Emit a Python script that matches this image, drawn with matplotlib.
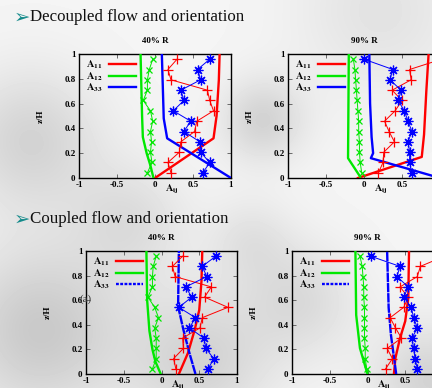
import numpy as np
import matplotlib
matplotlib.use("Agg")
import matplotlib.pyplot as plt
from matplotlib.lines import Line2D

plt.rcParams['font.family'] = ['Liberation Serif', 'DejaVu Sans']
plt.rcParams['mathtext.fontset'] = 'stix'

# ---------------- data ----------------
z_pts = [0.042, 0.125, 0.208, 0.292, 0.375, 0.458, 0.542, 0.625, 0.708, 0.792, 0.875, 0.958]

# Decoupled, 40% R
tl_a11_line_x = [0.0, 0.77, 0.81, 0.84, 0.85]
tl_a11_line_z = [0.0, 0.32, 0.50, 0.79, 1.0]
tl_a12_line_x = [-0.02, -0.06, -0.11, -0.16, -0.17, -0.18, -0.19]
tl_a12_line_z = [0.0, 0.1, 0.2, 0.33, 0.5, 0.75, 1.0]
tl_a33_line_x = [1.0, 0.16, 0.115, 0.09]
tl_a33_line_z = [0.0, 0.32, 0.48, 1.0]
tl_a11_pts = [0.21, 0.17, 0.32, 0.34, 0.52, 0.55, 0.77, 0.72, 0.69, 0.21, 0.17, 0.29]
tl_a12_pts = [-0.10, -0.04, -0.06, -0.045, -0.06, -0.03, -0.06, -0.155, -0.10, -0.10, -0.075, -0.03]
tl_a33_pts = [0.63, 0.72, 0.60, 0.59, 0.38, 0.47, 0.24, 0.38, 0.34, 0.60, 0.56, 0.72]

# Decoupled, 90% R
tr_a11_line_x = [-0.08, 0.76, 0.79, 0.82, 0.85]
tr_a11_line_z = [0.0, 0.17, 0.35, 0.70, 1.0]
tr_a12_line_x = [-0.05, -0.21, -0.20]
tr_a12_line_z = [0.01, 0.16, 1.0]
tr_a33_line_x = [0.07, 0.08, 0.10, 0.12, 0.09, 1.0]
tr_a33_line_z = [1.0, 0.6, 0.33, 0.2, 0.16, 0.0]
tr_a11_pts = [0.19, 0.25, 0.26, 0.40, 0.33, 0.27, 0.41, 0.50, 0.37, 0.62, 0.60, 1.02]
tr_a12_pts = [-0.03, -0.05, -0.06, -0.06, -0.07, -0.07, -0.08, -0.09, -0.10, -0.11, -0.12, -0.14]
tr_a33_pts = [0.63, 0.60, 0.60, 0.58, 0.63, 0.58, 0.53, 0.45, 0.49, 0.34, 0.38, 0.0]

# Coupled, 40% R
bl_a11_line_x = [0.23, 0.35, 0.44, 0.50, 0.53, 0.54]
bl_a11_line_z = [0.0, 0.17, 0.36, 0.52, 0.76, 1.0]
bl_a12_line_x = [-0.01, -0.08, -0.12, -0.16, -0.19, -0.20]
bl_a12_line_z = [0.0, 0.1, 0.2, 0.35, 0.6, 1.0]
bl_a33_line_x = [0.45, 0.37, 0.29, 0.22, 0.23]
bl_a33_line_z = [0.0, 0.17, 0.36, 0.55, 1.0]
bl_a11_pts = [0.19, 0.16, 0.29, 0.28, 0.51, 0.54, 0.88, 0.57, 0.66, 0.18, 0.145, 0.28]
bl_a12_pts = [-0.12, -0.07, -0.07, -0.07, -0.09, -0.04, -0.09, -0.18, -0.12, -0.12, -0.11, -0.07]
bl_a33_pts = [0.62, 0.69, 0.59, 0.56, 0.37, 0.45, 0.23, 0.40, 0.32, 0.60, 0.54, 0.72]

# Coupled, 90% R
br_a11_line_x = [0.35, 0.37, 0.43, 0.50, 0.54, 0.55]
br_a11_line_z = [0.0, 0.13, 0.29, 0.43, 0.62, 1.0]
br_a12_line_x = [0.0, -0.10, -0.15, -0.16]
br_a12_line_z = [0.0, 0.21, 0.48, 1.0]
br_a33_line_x = [0.38, 0.31, 0.28, 0.26]
br_a33_line_z = [0.0, 0.32, 0.54, 1.0]
br_a11_pts = [0.24, 0.33, 0.26, 0.45, 0.37, 0.30, 0.48, 0.54, 0.43, 0.66, 0.70, 1.02]
br_a12_pts = [-0.01, -0.03, -0.03, -0.04, -0.04, -0.04, -0.04, -0.05, -0.05, -0.06, -0.07, -0.10]
br_a33_pts = [0.66, 0.63, 0.61, 0.59, 0.66, 0.61, 0.58, 0.48, 0.54, 0.39, 0.43, 0.04]

titles = ["40% R", "90% R", "40% R", "90% R"]
xticks = [-1, -0.5, 0, 0.5, 1]
xticklabels = ["-1", "-0.5", "0", "0.5", "1"]
yticks = [0, 0.2, 0.4, 0.6, 0.8, 1]
yticklabels = ["0", "0.2", "0.4", "0.6", "0.8", "1"]
legend_labels = [r"$\mathbf{A_{11}}$", r"$\mathbf{A_{12}}$", r"$\mathbf{A_{33}}$"]

RED, GREEN, BLUE = "#ff0000", "#00e800", "#0000ff"

W, H = 432, 388
fig = plt.figure(figsize=(W / 100, H / 100), dpi=100)

# ---------------- slide background ----------------
bg = fig.add_axes([0, 0, 1, 1], zorder=-10)
yy, xx = np.mgrid[0:H, 0:W]
field = np.full((H, W), 0.96)
blobs = [(30, 140, 50, 0.13), (262, 120, 30, 0.13), (40, 330, 60, 0.17),
         (200, 360, 50, 0.13), (300, 300, 40, 0.10), (380, 10, 60, 0.07),
         (130, 220, 40, 0.09), (430, 380, 40, 0.13), (250, 240, 30, 0.07)]
for cx, cy, s, d in blobs:
    field -= d * np.exp(-((xx - cx) ** 2 + (yy - cy) ** 2) / (2 * s * s))
bg.imshow(field, cmap="gray", vmin=0, vmax=1, extent=[0, W, H, 0], aspect="auto",
          interpolation="bilinear")
bg.set_xlim(0, W)
bg.set_ylim(H, 0)
bg.axis("off")

# ---------------- headers ----------------
for ytxt, txt in [(17, "Decoupled flow and orientation"), (219, "Coupled flow and orientation")]:
    fig.text(14 / W, 1 - ytxt / H, "\u27a2", family="DejaVu Sans", fontsize=14,
             color="#138a8a", va="center", ha="left")
    fig.text(30 / W, 1 - ytxt / H, txt, fontsize=12.2, color="#111111",
             va="center", ha="left")

# ---------------- axes ----------------
positions = [
    (79, 54, 152, 124),
    (288, 54, 152, 124),
    (86, 251, 151, 123),
    (292, 251, 151, 123),
]
panels = [
    (tl_a11_line_x, tl_a11_line_z, tl_a12_line_x, tl_a12_line_z, tl_a33_line_x, tl_a33_line_z,
     tl_a11_pts, tl_a12_pts, tl_a33_pts),
    (tr_a11_line_x, tr_a11_line_z, tr_a12_line_x, tr_a12_line_z, tr_a33_line_x, tr_a33_line_z,
     tr_a11_pts, tr_a12_pts, tr_a33_pts),
    (bl_a11_line_x, bl_a11_line_z, bl_a12_line_x, bl_a12_line_z, bl_a33_line_x, bl_a33_line_z,
     bl_a11_pts, bl_a12_pts, bl_a33_pts),
    (br_a11_line_x, br_a11_line_z, br_a12_line_x, br_a12_line_z, br_a33_line_x, br_a33_line_z,
     br_a11_pts, br_a12_pts, br_a33_pts),
]

tick_font = dict(family="Liberation Serif", weight="bold", size=6.5)
asterisk = (8, 2, 0)

for i, ((px, py, pw, ph), data, title) in enumerate(zip(positions, panels, titles)):
    ax = fig.add_axes([px / W, 1 - (py + ph) / H, pw / W, ph / H])
    ax.set_facecolor("none")
    (l11x, l11z, l12x, l12z, l33x, l33z, p11, p12, p33) = data
    dashed = i >= 2
    ax.plot(l11x, l11z, color=RED, lw=1.7, zorder=3)
    ax.plot(l12x, l12z, color=GREEN, lw=1.7, zorder=3)
    ln33, = ax.plot(l33x, l33z, color=BLUE, lw=1.7, zorder=3)
    if dashed:
        ln33.set_dashes([4.0, 0.35])
    ax.plot(p11, z_pts, color=RED, lw=0.7, marker="+", ms=6.5, mew=0.9, zorder=4)
    ax.plot(p12, z_pts, color=GREEN, lw=0.7, marker="x", ms=5, mew=0.9, zorder=4)
    ax.plot(p33, z_pts, color=BLUE, lw=0.7, marker=asterisk, ms=7, mew=0.9, zorder=4)

    ax.set_xlim(-1, 1)
    ax.set_ylim(0, 1)
    ax.set_xticks(xticks)
    ax.set_xticklabels(xticklabels, fontdict=tick_font)
    ax.set_yticks(yticks)
    ax.set_yticklabels(yticklabels, fontdict=tick_font)
    ax.tick_params(direction="in", length=3, width=0.6, color="#555555", top=True,
                   right=True, pad=2.5)
    for s in ax.spines.values():
        s.set_linewidth(1.0)
        s.set_color("black")
    ax.set_title(title, fontdict=dict(family="Liberation Serif", weight="bold", size=6.5),
                 pad=8)
    ax.set_ylabel("z/H", fontdict=dict(family="Liberation Serif", weight="bold", size=6.5),
                  labelpad=14)
    ax.text(0.22, -0.04, r"$\mathbf{A_{ij}}$", transform=ax.get_xaxis_transform(),
            ha="center", va="top", fontsize=7.5)

    handles = [Line2D([], [], color=RED, lw=1.7),
               Line2D([], [], color=GREEN, lw=1.7),
               Line2D([], [], color=BLUE, lw=1.7)]
    if dashed:
        handles[2].set_dashes([1.2, 0.6])
    ax.legend(handles, legend_labels, loc="upper left", bbox_to_anchor=(0.04, 0.97),
              frameon=False, markerfirst=False, handlelength=2.6, handletextpad=0.6,
              labelspacing=-0.1, fontsize=7.5, borderaxespad=0.0, borderpad=0.1)

fig.text(79 / W, 1 - 299 / H, "(a)", fontsize=8, color="#333333", va="center", ha="left")

fig.savefig("out.png", dpi=100)
